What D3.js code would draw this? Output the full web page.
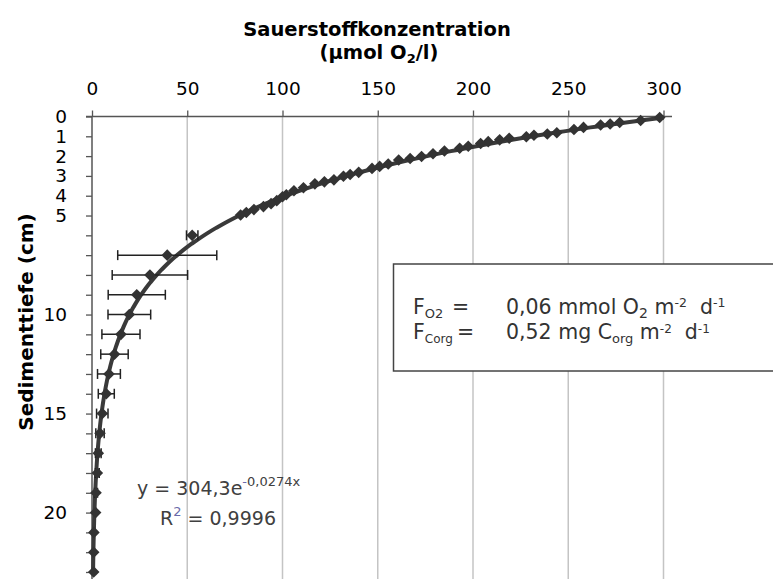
<!DOCTYPE html>
<html><head><meta charset="utf-8">
<script src="https://cdn.jsdelivr.net/npm/d3@7"></script>
<style>body{margin:0;background:#fff}svg{display:block}text{white-space:pre}</style>
</head><body>
<svg id="chart" width="773" height="579"></svg>
<script>
// Sediment depth (cm) of each measurement
const depth = [0.05,0.2,0.3,0.38,0.43,0.55,0.66,0.82,0.88,
  0.95,1.02,1.1,1.18,1.27,1.36,1.5,1.6,1.74,1.88,2.02,
  2.12,2.2,2.4,2.52,2.62,2.82,2.93,3.02,3.2,3.3,3.4,3.6,
  3.75,3.95,4.05,4.25,4.4,4.55,4.7,4.85,4.97,
  6,7,8,9,10,11,12,13,14,15,16,17,18,19,20,21,22,23];
// Oxygen concentration (µmol O2/l)
const conc = [298,288,277,272,267,258,253,244,239,
  232,228,219,214,208,204,197.5,193,185,179,173,
  167,161,155.5,151,147,140,135.5,132,127,122,117,111,
  106,102,100,97,94,90,85,81,78,
  52.6,39.5,30.4,23.5,19.6,15.2,11.8,8.9,7.5,5.4,4.2,3.3,2.8,2.1,1.9,1.0,0.9,0.9];
// Error (± µmol/l)
const err = [0,0,0,0,0,0,0,0,0,
  0,0,0,0,0,0,0,0,0,0,0,
  0,0,0,0,0,0,0,0,0,0,0,0,
  0,0,0,0,0,0,0,0,0,
  3,26,19.8,15,11.2,10,7.2,6,4.2,3,2.2,1.5,1,0.8,0,0,0,0];
const xTicks = [0,50,100,150,200,250,300];
const yTicks = d3.range(0,24);
const yLabels = [0,1,2,3,4,5,10,15,20];
// Exponential trendline shown in the chart: y = 304,3 e^(-0,0274 x), x in mm
const trendA = 304.3, trendB = 0.0274;

const svg = d3.select("#chart");
const font = "'DejaVu Sans', sans-serif";
const x = d3.scaleLinear().domain([0,300]).range([92,663.5]);
const y = d3.scaleLinear().domain([0,23]).range([116.5,572]);
const bottom = 579;

// gridlines
svg.append("g").selectAll("line").data(xTicks.filter(d=>d>0)).join("line")
  .attr("x1",d=>x(d)).attr("x2",d=>x(d)).attr("y1",y(0)).attr("y2",bottom)
  .attr("stroke","#c4c4c4").attr("stroke-width",1.5);

// top axis
const gx = svg.append("g").attr("transform",`translate(0,${y(0)})`)
  .call(d3.axisTop(x).tickValues(xTicks).tickSize(6).tickPadding(16).tickFormat(d3.format("d")));
gx.select(".domain").remove();
gx.selectAll(".tick line").attr("stroke","#555").attr("stroke-width",1.3);
gx.selectAll("text").attr("font-family",font).attr("font-size",18.5).attr("fill","#000");
svg.append("line").attr("x1",86).attr("x2",672).attr("y1",y(0)).attr("y2",y(0))
  .attr("stroke","#555").attr("stroke-width",1.5);

// left axis
const gy = svg.append("g").attr("transform",`translate(${x(0)},0)`)
  .call(d3.axisLeft(y).tickValues(yTicks).tickSize(6).tickPadding(19)
    .tickFormat(d=>yLabels.includes(d)?d:""));
gy.select(".domain").remove();
gy.selectAll(".tick line").attr("stroke","#555").attr("stroke-width",1.3);
gy.selectAll("text").attr("font-family",font).attr("font-size",18.5).attr("fill","#000");
svg.append("line").attr("x1",x(0)).attr("x2",x(0)).attr("y1",y(0)).attr("y2",bottom)
  .attr("stroke","#555").attr("stroke-width",1.5);

// titles
const title = svg.append("text").attr("x",377).attr("y",36).attr("text-anchor","middle")
  .attr("font-family",font).attr("font-weight","bold").attr("font-size",19.5);
title.append("tspan").text("Sauerstoffkonzentration");
const t2 = svg.append("text").attr("x",379).attr("y",58.5).attr("text-anchor","middle")
  .attr("font-family",font).attr("font-weight","bold").attr("font-size",19.5);
t2.append("tspan").text("(µmol O");
t2.append("tspan").attr("font-size",13).attr("dy",4).text("2");
t2.append("tspan").attr("dy",-4).text("/l)");
svg.append("text").attr("transform","translate(33,322) rotate(-90)").attr("text-anchor","middle")
  .attr("font-family",font).attr("font-weight","bold").attr("font-size",20)
  .text("Sedimenttiefe (cm)");

// trendline (spans the depth range of the data)
const trendDepths = d3.range(depth[0], d3.max(depth)+0.001, 0.05);
svg.append("path").datum(trendDepths)
  .attr("d",d3.line().x(d=>x(trendA*Math.exp(-trendB*d*10))).y(d=>y(d)))
  .attr("fill","none").attr("stroke","#3a3a3a").attr("stroke-width",4);

// error bars
const pts = depth.map((d,i)=>({d,c:conc[i],e:err[i]}));
const eb = svg.append("g").attr("stroke","#222").attr("stroke-width",1.5).attr("fill","none");
pts.filter(p=>p.e>0).forEach(p=>{
  const yy=y(p.d), x1=x(p.c-p.e), x2=x(p.c+p.e);
  eb.append("line").attr("x1",x1).attr("x2",x2).attr("y1",yy).attr("y2",yy);
  eb.append("line").attr("x1",x1).attr("x2",x1).attr("y1",yy-5).attr("y2",yy+5);
  eb.append("line").attr("x1",x2).attr("x2",x2).attr("y1",yy-5).attr("y2",yy+5);
});

// markers (diamonds)
const r = 5.8;
svg.append("g").selectAll("path").data(pts).join("path")
  .attr("d",p=>{const cx=x(p.c), cy=y(p.d);return `M${cx},${cy-r}L${cx+r},${cy}L${cx},${cy+r}L${cx-r},${cy}Z`;})
  .attr("fill","#333");

// equation
const eq = svg.append("text").attr("x",137).attr("y",495).attr("font-family",font)
  .attr("font-size",19).attr("fill","#404040");
eq.append("tspan").text("y = 304,3e");
eq.append("tspan").attr("font-size",13).attr("dy",-9).attr("fill","#6a6aaa").text("-");
eq.append("tspan").attr("font-size",13).text("0,0274x");
const r2 = svg.append("text").attr("x",160).attr("y",525).attr("font-family",font)
  .attr("font-size",19).attr("fill","#404040");
r2.append("tspan").text("R");
r2.append("tspan").attr("font-size",13).attr("dy",-9).attr("fill","#6a6aaa").text("2");
r2.append("tspan").attr("dy",9).text(" = 0,9996");

// flux box
svg.append("rect").attr("x",393.5).attr("y",264).attr("width",400).attr("height",107)
  .attr("fill","#fff").attr("stroke","#444").attr("stroke-width",1.5);
const b1 = svg.append("text").attr("x",413).attr("y",313.5).attr("font-family",font)
  .attr("font-size",20.5).attr("fill","#333");
b1.append("tspan").text("F");
b1.append("tspan").attr("font-size",13).attr("dy",4).text("O2");
b1.append("tspan").attr("x",452).attr("dy",-4).text("=");
b1.append("tspan").attr("x",506).text("0,06 mmol O");
b1.append("tspan").attr("font-size",14).attr("dy",4).text("2");
b1.append("tspan").attr("dy",-4).text(" m");
b1.append("tspan").attr("font-size",12.5).attr("dy",-7).text("-2");
b1.append("tspan").attr("dy",7).text("  d");
b1.append("tspan").attr("font-size",12.5).attr("dy",-7).text("-1");
const b2 = svg.append("text").attr("x",413).attr("y",338.5).attr("font-family",font)
  .attr("font-size",20.5).attr("fill","#333");
b2.append("tspan").text("F");
b2.append("tspan").attr("font-size",12).attr("dy",4).text("Corg");
b2.append("tspan").attr("dy",-4).text("\u2009=");
b2.append("tspan").attr("x",506).text("0,52 mg C");
b2.append("tspan").attr("font-size",13).attr("dy",4).text("org");
b2.append("tspan").attr("dy",-4).text(" m");
b2.append("tspan").attr("font-size",12).attr("dy",-6).text("-2");
b2.append("tspan").attr("dy",6).text("  d");
b2.append("tspan").attr("font-size",12).attr("dy",-6).text("-1");
</script>
</body></html>
